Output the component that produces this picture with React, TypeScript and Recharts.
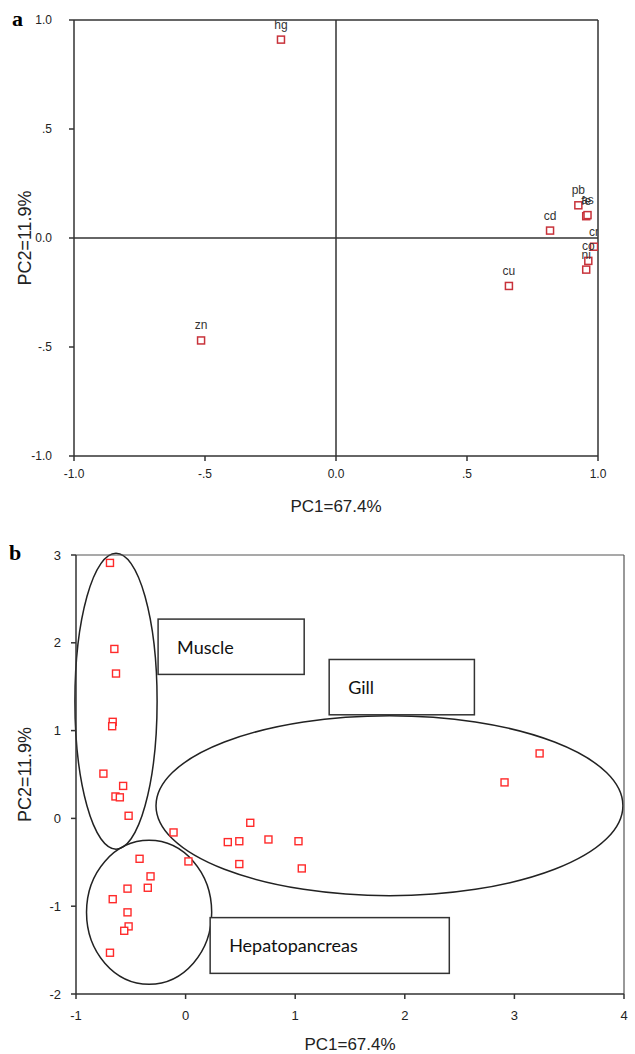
import React from 'react';
import { ScatterChart, Scatter, XAxis, YAxis, ReferenceLine, ReferenceArea } from 'recharts';

// ---- Panel a: loadings ----
const loadingNames = ['hg', 'zn', 'cd', 'cu', 'pb', 'fe', 'as', 'cr', 'co', 'ni'];
const pc1Loadings = [-0.21, -0.515, 0.817, 0.66, 0.925, 0.955, 0.96, 0.985, 0.963, 0.955];
const pc2Loadings = [0.91, -0.47, 0.034, -0.22, 0.15, 0.1, 0.105, -0.04, -0.105, -0.145];
const topTicks = [-1, -0.5, 0, 0.5, 1];
const topTickLabels = ['-1.0', '-.5', '0.0', '.5', '1.0'];

// ---- Panel b: scores ----
const pc1Scores = [-0.69, -0.65, -0.635, -0.665, -0.67, -0.75, -0.57, -0.64, -0.6, -0.52, -0.11, 0.59, 0.385, 0.49, 0.756, 1.03, 0.49, 1.06, 0.026, -0.42, -0.32, -0.345, -0.53, -0.665, -0.53, -0.52, -0.56, -0.69, 3.23, 2.91];
const pc2Scores = [2.91, 1.93, 1.65, 1.1, 1.05, 0.51, 0.37, 0.25, 0.24, 0.03, -0.16, -0.05, -0.27, -0.26, -0.24, -0.26, -0.52, -0.57, -0.49, -0.46, -0.66, -0.79, -0.8, -0.92, -1.07, -1.23, -1.28, -1.53, 0.74, 0.41];
const bottomXTicks = [-1, 0, 1, 2, 3, 4];
const bottomYTicks = [-2, -1, 0, 1, 2, 3];

// group outlines (data units): [x1, x2, y1, y2]
const groupEllipses = [
  { name: 'Muscle', x1: -1.01, x2: -0.26, y1: -0.35, y2: 3.02 },
  { name: 'Gill', x1: -0.27, x2: 3.99, y1: -0.88, y2: 1.17 },
  { name: 'Hepatopancreas', x1: -0.904, x2: 0.238, y1: -1.89, y2: -0.25 },
];
const groupBoxes = [
  { name: 'Muscle', x1: -0.251, x2: 1.082, y1: 1.64, y2: 2.27 },
  { name: 'Gill', x1: 1.31, x2: 2.635, y1: 1.18, y2: 1.81 },
  { name: 'Hepatopancreas', x1: 0.224, x2: 2.406, y1: -1.765, y2: -1.13 },
];

const loadingData = loadingNames.map((n, i) => ({ name: n, pc1: pc1Loadings[i], pc2: pc2Loadings[i] }));
const scoreData = pc1Scores.map((v, i) => ({ pc1: v, pc2: pc2Scores[i] }));

const FONT = 'Liberation Sans, Arial, sans-serif';
const AX = '#333';

const LabeledSquare = (props: any) => {
  const { cx, cy, payload } = props;
  return (
    <g>
      <rect x={cx - 3.5} y={cy - 3.5} width={7} height={7} fill="#fff" stroke="#c8323a" strokeWidth={1.5} />
      <text x={cx} y={cy - 11} textAnchor="middle" fontSize={12} fill="#333" fontFamily={FONT}>
        {payload.name}
      </text>
    </g>
  );
};

const Square = (props: any) => {
  const { cx, cy } = props;
  return <rect x={cx - 3.5} y={cy - 3.5} width={7} height={7} fill="#fff" stroke="#ff2a2a" strokeWidth={1.4} />;
};

const EllipseShape = (props: any) => {
  const { x, y, width, height } = props;
  return (
    <ellipse cx={x + width / 2} cy={y + height / 2} rx={Math.abs(width) / 2} ry={Math.abs(height) / 2} fill="none" stroke="#222" strokeWidth={1.5} />
  );
};

const boxShape = (label: string) => (props: any) => {
  const { x, y, width, height } = props;
  return (
    <g>
      <rect x={x} y={y} width={width} height={height} fill="#fff" stroke="#333" strokeWidth={1.5} />
      <text x={x + 19} y={y + height / 2} dominantBaseline="central" fontSize={18} fill="#111" fontFamily="Lato, Open Sans, sans-serif">
        {label}
      </text>
    </g>
  );
};

export default function App() {
  return (
    <div style={{ position: 'absolute', left: 0, top: 0, width: 635, height: 1054, background: '#fff' }}>
      <div style={{ position: 'absolute', left: 12, top: 6, fontFamily: 'Liberation Serif, serif', fontWeight: 'bold', fontSize: 22 }}>a</div>
      <div style={{ position: 'absolute', left: 9, top: 540, fontFamily: 'Liberation Serif, serif', fontWeight: 'bold', fontSize: 22 }}>b</div>

      <div style={{ position: 'absolute', left: 0, top: 0 }}>
        <ScatterChart width={635} height={530} margin={{ top: 20, right: 37, bottom: 0, left: 0 }}>
          <XAxis
            type="number"
            dataKey="pc1"
            domain={[-1, 1]}
            allowDataOverflow
            ticks={topTicks}
            tickFormatter={(v: number) => topTickLabels[topTicks.indexOf(v)]}
            height={74}
            stroke={AX}
            strokeWidth={1.5}
            tickSize={5}
            tickMargin={8}
            tick={{ fontSize: 12, fill: '#222', fontFamily: FONT }}
            label={{ value: 'PC1=67.4%', position: 'insideBottom', offset: 18, style: { fontSize: 17, fill: '#222', fontFamily: FONT } }}
          />
          <YAxis
            type="number"
            dataKey="pc2"
            domain={[-1, 1]}
            allowDataOverflow
            ticks={topTicks}
            tickFormatter={(v: number) => topTickLabels[topTicks.indexOf(v)]}
            width={74}
            stroke={AX}
            strokeWidth={1.5}
            tickSize={5}
            tickMargin={17}
            tick={{ fontSize: 12, fill: '#222', fontFamily: FONT }}
            label={{ value: 'PC2=11.9%', position: 'insideLeft', angle: -90, offset: 25, style: { fontSize: 18, fill: '#222', fontFamily: FONT, textAnchor: 'middle' } }}
          />
          <ReferenceLine x={0} stroke={AX} strokeWidth={1.5} />
          <ReferenceLine y={0} stroke={AX} strokeWidth={1.5} />
          <ReferenceLine x={1} stroke={AX} strokeWidth={1.5} />
          <ReferenceLine y={1} stroke={AX} strokeWidth={1.5} />
          <Scatter data={loadingData} shape={LabeledSquare} isAnimationActive={false} />
        </ScatterChart>
      </div>

      <div style={{ position: 'absolute', left: 0, top: 530 }}>
        <ScatterChart width={635} height={524} margin={{ top: 25, right: 11, bottom: 0, left: 0 }}>
          <XAxis
            type="number"
            dataKey="pc1"
            domain={[-1, 4]}
            allowDataOverflow
            ticks={bottomXTicks}
            height={60}
            stroke={AX}
            strokeWidth={1.5}
            tickSize={5}
            tickMargin={12}
            tick={{ fontSize: 13, fill: '#222', fontFamily: FONT }}
            label={{ value: 'PC1=67.4%', position: 'insideBottom', offset: 4, style: { fontSize: 17, fill: '#222', fontFamily: FONT } }}
          />
          <YAxis
            type="number"
            dataKey="pc2"
            domain={[-2, 3]}
            allowDataOverflow
            ticks={bottomYTicks}
            width={76}
            stroke={AX}
            strokeWidth={1.5}
            tickSize={5}
            tickMargin={10}
            tick={{ fontSize: 13, fill: '#222', fontFamily: FONT }}
            label={{ value: 'PC2=11.9%', position: 'insideLeft', angle: -90, offset: 25, style: { fontSize: 18, fill: '#222', fontFamily: FONT, textAnchor: 'middle' } }}
          />
          <ReferenceLine x={4} stroke="#555" strokeWidth={1.2} />
          <ReferenceLine y={3} stroke="#555" strokeWidth={1.2} />
          {groupEllipses.map((g) => (
            <ReferenceArea key={'e' + g.name} x1={g.x1} x2={g.x2} y1={g.y1} y2={g.y2} ifOverflow="visible" shape={EllipseShape} />
          ))}
          {groupBoxes.map((g) => (
            <ReferenceArea key={'b' + g.name} x1={g.x1} x2={g.x2} y1={g.y1} y2={g.y2} ifOverflow="visible" shape={boxShape(g.name)} />
          ))}
          <Scatter data={scoreData} shape={Square} isAnimationActive={false} />
        </ScatterChart>
      </div>
    </div>
  );
}
